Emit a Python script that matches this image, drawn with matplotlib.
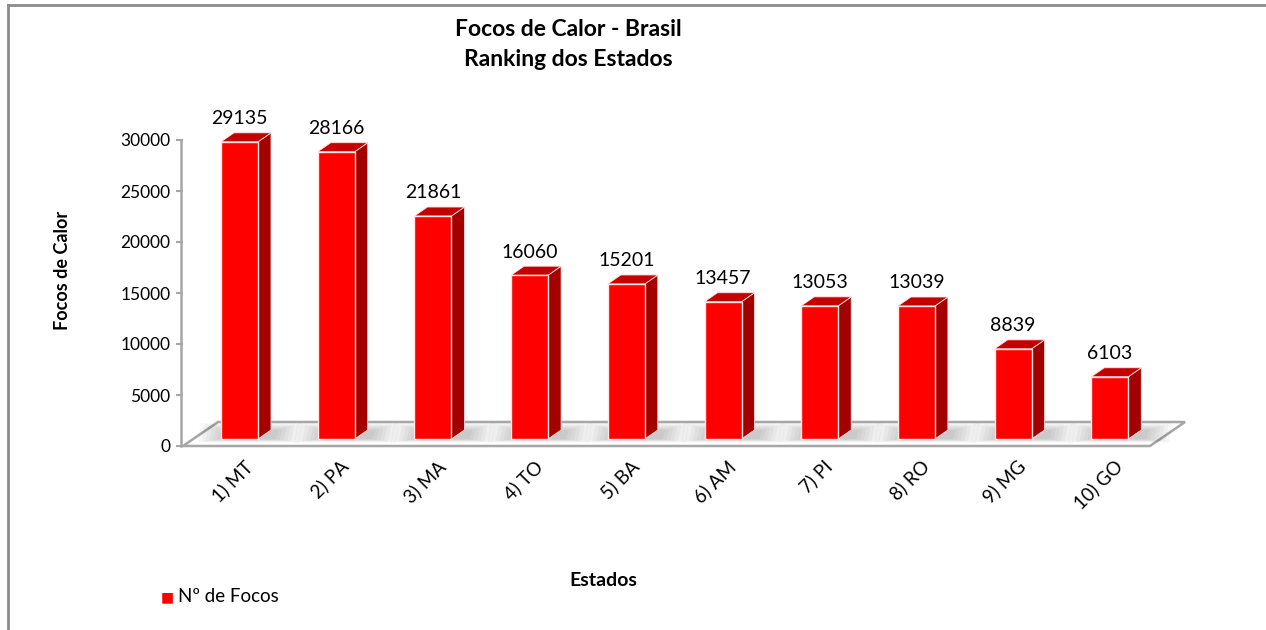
import matplotlib
matplotlib.use("Agg")
import matplotlib.pyplot as plt
from matplotlib.patches import Polygon
from matplotlib.lines import Line2D
import numpy as np

# data
estados = ["1) MT", "2) PA", "3) MA", "4) TO", "5) BA",
           "6) AM", "7) PI", "8) RO", "9) MG", "10) GO"]
focos = [29135, 28166, 21861, 16060, 15201, 13457, 13053, 13039, 8839, 6103]
yticks = [0, 5000, 10000, 15000, 20000, 25000, 30000]

plt.rcParams['font.family'] = ['Lato', 'DejaVu Sans']

W, H = 1266, 630
fig = plt.figure(figsize=(W / 100, H / 100), dpi=100)

# axes placed in pixel terms: x -0.5..9.5 over floor front edge, y 0..30000
left, right, top, bottom = 183, 1150, 140, 446
ax = fig.add_axes([left / W, 1 - bottom / H, (right - left) / W, (bottom - top) / H])
ax.set_xlim(-0.5, 9.5)
ax.set_ylim(0, 30000)
ax.patch.set_visible(False)
for s in ax.spines.values():
    s.set_visible(False)

# pixel -> data helpers for 3D offsets
ux = 10.0 / (right - left)   # data x per pixel
uy = 30000.0 / (bottom - top)  # data y per pixel

floor_d = (35 * ux, 24 * uy)   # floor depth
base_d = (10 * ux, 7 * uy)     # bar front plane offset
bar_d = (13 * ux, 9 * uy)      # bar depth
bw = 37 * ux
bx0 = -0.107  # bar front-left relative to category

# floor
fl = [(-0.5, 0), (9.5, 0), (9.5 + floor_d[0], floor_d[1]), (-0.5 + floor_d[0], floor_d[1])]
floor = Polygon(fl, closed=True, facecolor='white', edgecolor='#a6a6a6', lw=1.8,
                zorder=1, clip_on=False)
ax.add_patch(floor)

# soft shadows on floor
x = np.arange(len(focos))
for i in x:
    xl = i + bx0
    for k in range(7):
        g = k * 0.04
        gy = k * 110
        sh = Polygon([(xl - g, base_d[1] - gy * 0.5),
                      (xl + bw + bar_d[0] + g + 0.05, base_d[1] - gy * 0.5),
                      (xl + bw + bar_d[0] + g + 0.08, base_d[1] + bar_d[1] + gy),
                      (xl - g + 0.03, base_d[1] + bar_d[1] + gy)],
                     closed=True, facecolor='black', edgecolor='none', alpha=0.03,
                     zorder=1.5, clip_on=False)
        ax.add_patch(sh)
        sh.set_clip_path(floor)

# bars
for i, v in zip(x, focos):
    x0 = i + bx0
    y0 = base_d[1]
    x1 = x0 + bw
    y1 = y0 + v
    dx, dy = bar_d
    side = Polygon([(x1, y0), (x1 + dx, y0 + dy), (x1 + dx, y1 + dy), (x1, y1)],
                   facecolor='#a30000', edgecolor='#ffdede', lw=0.6, zorder=3, clip_on=False)
    topf = Polygon([(x0, y1), (x1, y1), (x1 + dx, y1 + dy), (x0 + dx, y1 + dy)],
                   facecolor='#c40000', edgecolor='#ffdede', lw=0.6, zorder=3, clip_on=False)
    front = Polygon([(x0, y0), (x1, y0), (x1, y1), (x0, y1)],
                    facecolor='#ff0000', edgecolor='#ffe4e4', lw=1.0, zorder=4, clip_on=False)
    for p in (side, topf, front):
        ax.add_patch(p)
    ax.annotate(str(v), ((x0 + x1) / 2, y1 + dy), xytext=(0, 4), textcoords='offset points',
                ha='center', va='bottom', fontsize=14, color='black', zorder=5,
                annotation_clip=False)

# vertical axis
ax.add_line(Line2D([-0.5 - 2 * ux, -0.5 - 2 * ux], [0, 30000], color='#a6a6a6', lw=1.8,
                   clip_on=False, zorder=2))
ax.set_yticks(yticks)
ax.set_yticklabels([str(t) for t in yticks], fontsize=12.5)
ax.tick_params(axis='y', length=5, width=1.5, color='#a6a6a6', pad=4, left=True)

# category labels
ax.set_xticks(x + 0.12)
ax.set_xticklabels(estados, rotation=45, ha='right', rotation_mode='anchor', fontsize=13.5)
ax.tick_params(axis='x', length=0, pad=8)

# titles and axis titles
fig.text(568 / W, 1 - 29 / H, "Focos de Calor - Brasil", ha='center', va='center',
         fontsize=16.5, fontweight='bold')
fig.text(568 / W, 1 - 59 / H, "Ranking dos Estados", ha='center', va='center',
         fontsize=16.5, fontweight='bold')
fig.text(63 / W, 1 - 270 / H, "Focos de Calor", ha='center', va='center', rotation=90,
         fontsize=13, fontweight='bold')
fig.text(603 / W, 1 - 581 / H, "Estados", ha='center', va='center',
         fontsize=14, fontweight='bold')

# legend
fig.text(167 / W, 1 - 597 / H, "\u25a0", ha='center', va='center', fontsize=10,
         color='#ff0000', family=['DejaVu Sans'])
fig.text(178 / W, 1 - 597 / H, "Nº de Focos", ha='left', va='center', fontsize=13.5)

# outer frame (top and left)
fig.add_artist(Line2D([8 / W, 1], [1 - 5 / H, 1 - 5 / H], color='#8c8c8c', lw=2,
                      transform=fig.transFigure))
fig.add_artist(Line2D([8 / W, 8 / W], [0, 1 - 5 / H], color='#8c8c8c', lw=2,
                      transform=fig.transFigure))

fig.savefig("out.png", dpi=100)
